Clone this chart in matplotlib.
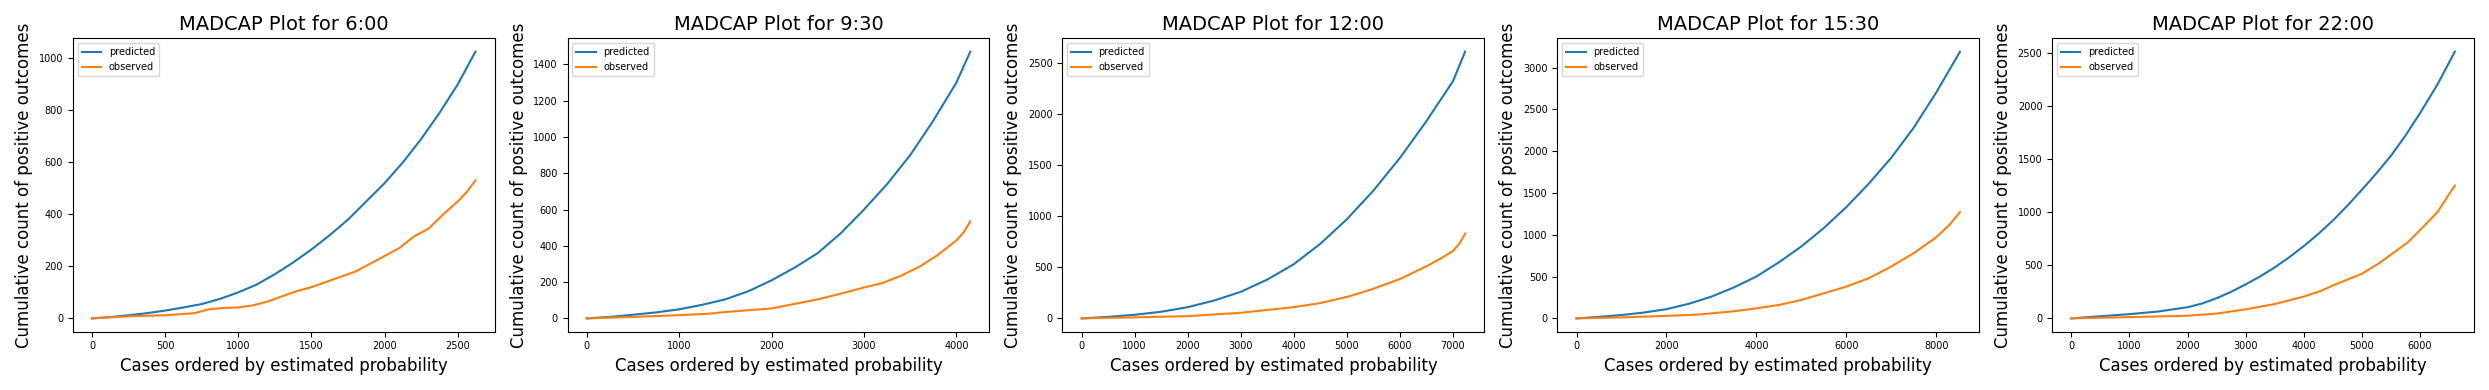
import matplotlib
matplotlib.use("Agg")
import matplotlib.pyplot as plt

titles = ["6:00", "9:30", "12:00", "15:30", "22:00"]

# curves (x, y)
pred_x_600 = [0, 125, 250, 375, 500, 625, 750, 875, 1000, 1125, 1250, 1375, 1500, 1625, 1750,
              1875, 2000, 2125, 2250, 2375, 2500, 2620]
pred_y_600 = [0, 5, 12, 20, 30, 42, 55, 75, 100, 130, 170, 215, 265, 320, 380,
              450, 520, 600, 690, 790, 900, 1025]
obs_x_600 = [0, 250, 500, 700, 800, 900, 1000, 1100, 1200, 1300, 1400, 1500, 1600, 1700, 1800,
             1900, 2000, 2100, 2200, 2300, 2400, 2500, 2560, 2620]
obs_y_600 = [0, 8, 12, 20, 35, 40, 42, 50, 65, 85, 105, 120, 140, 160, 180,
             210, 240, 270, 315, 345, 400, 450, 485, 530]

pred_x_930 = [0, 250, 500, 750, 1000, 1250, 1500, 1750, 2000, 2250, 2500, 2750, 3000, 3250,
              3500, 3750, 4000, 4150]
pred_y_930 = [0, 8, 20, 33, 50, 75, 105, 150, 210, 280, 360, 470, 600, 740,
              900, 1090, 1300, 1470]
obs_x_930 = [0, 500, 1000, 1300, 1500, 2000, 2200, 2500, 2700, 3000, 3200, 3400, 3600, 3800,
             3900, 4000, 4080, 4150]
obs_y_930 = [0, 8, 18, 25, 35, 55, 75, 105, 130, 170, 195, 235, 285, 350,
             390, 430, 475, 535]

pred_x_1200 = [0, 500, 1000, 1500, 2000, 2500, 3000, 3500, 4000, 4500, 5000, 5500, 6000,
               6500, 7000, 7230]
pred_y_1200 = [0, 15, 35, 65, 110, 175, 260, 380, 530, 730, 970, 1250, 1570,
               1930, 2320, 2610]
obs_x_1200 = [0, 1000, 2000, 3000, 4000, 4500, 5000, 5200, 5500, 6000, 6500, 6800, 7000, 7120, 7230]
obs_y_1200 = [0, 10, 22, 55, 110, 150, 210, 240, 290, 385, 510, 595, 660, 730, 830]

pred_x_1530 = [0, 500, 1000, 1500, 2000, 2500, 3000, 3500, 4000, 4500, 5000, 5500, 6000,
               6500, 7000, 7500, 8000, 8530]
pred_y_1530 = [0, 18, 40, 70, 110, 175, 260, 370, 500, 670, 860, 1080, 1330,
               1610, 1920, 2280, 2700, 3190]
obs_x_1530 = [0, 1000, 2000, 2700, 3000, 3500, 4000, 4500, 5000, 5500, 6000, 6500, 7000,
              7500, 8000, 8300, 8530]
obs_y_1530 = [0, 12, 30, 45, 60, 85, 120, 160, 220, 300, 380, 480, 620,
              780, 970, 1120, 1270]

pred_x_2200 = [0, 500, 1000, 1500, 2000, 2250, 2500, 2750, 3000, 3250, 3500, 3750, 4000,
               4250, 4500, 4750, 5000, 5250, 5500, 5750, 6000, 6300, 6600]
pred_y_2200 = [0, 20, 40, 65, 105, 140, 190, 250, 320, 395, 480, 575, 680,
               795, 920, 1060, 1210, 1365, 1530, 1720, 1930, 2200, 2510]
obs_x_2200 = [0, 1000, 2000, 2500, 3000, 3500, 4000, 4300, 4500, 5000, 5300, 5500, 5800,
              6000, 6300, 6600]
obs_y_2200 = [0, 12, 25, 45, 85, 135, 205, 260, 310, 420, 520, 600, 720,
              830, 1000, 1250]

panels = [
    (pred_x_600, pred_y_600, obs_x_600, obs_y_600),
    (pred_x_930, pred_y_930, obs_x_930, obs_y_930),
    (pred_x_1200, pred_y_1200, obs_x_1200, obs_y_1200),
    (pred_x_1530, pred_y_1530, obs_x_1530, obs_y_1530),
    (pred_x_2200, pred_y_2200, obs_x_2200, obs_y_2200),
]

fig, axes = plt.subplots(1, 5, figsize=(24.89, 3.9), dpi=100)

for ax, t, (px, py, ox, oy) in zip(axes, titles, panels):
    ax.plot(px, py, label="predicted")
    ax.plot(ox, oy, label="observed")
    ax.set_title(f"MADCAP Plot for {t}", fontsize=14)
    ax.set_xlabel("Cases ordered by estimated probability", fontsize=12)
    ax.set_ylabel("Cumulative count of positive outcomes", fontsize=12)
    ax.tick_params(labelsize=7)
    ax.legend(loc="upper left", fontsize=7)

plt.tight_layout()
plt.savefig("out.png")
